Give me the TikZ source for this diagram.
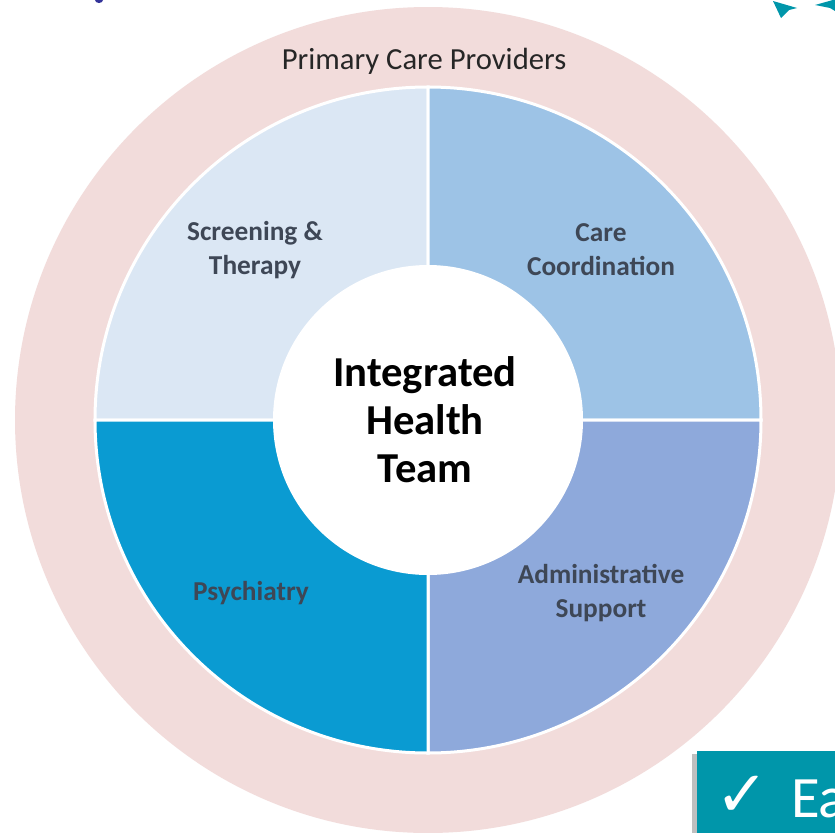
\documentclass[tikz,border=0pt]{standalone}
\usepackage{fontspec}
\setmainfont{Carlito}
\newfontfamily\symfont{DejaVu Sans}
\usepackage{xcolor}
\definecolor{ringpink}{HTML}{F2DCDB}
\definecolor{paleblue}{HTML}{DBE7F4}
\definecolor{midblue}{HTML}{9DC3E6}
\definecolor{deepblue}{HTML}{0A9BD2}
\definecolor{slateblue}{HTML}{8EA9DB}
\definecolor{labelgray}{HTML}{3E4756}
\definecolor{tealbox}{HTML}{0096AA}

\tikzset{
  quad/.style={draw=white, line width=2.25pt},
  lbl/.style={text=labelgray, font=\bfseries\fontsize{20.5}{25.5}\selectfont, align=center, inner sep=0.75pt},
}

\begin{document}
\begin{tikzpicture}[x=0.75pt,y=0.75pt,yscale=-1,xscale=1]
\useasboundingbox (0,0) rectangle (835,832);
\clip (0,0) rectangle (835,832);
\fill[white] (0,0) rectangle (835,832);
% outer ring
\fill[ringpink] (428,420) circle [radius=413];
% four quadrants
\draw[quad, fill=paleblue] (428,420) -- (95,420) arc [start angle=180, end angle=270, radius=333] -- cycle;
\draw[quad, fill=midblue] (428,420) -- (428,87) arc [start angle=270, end angle=360, radius=333] -- cycle;
\draw[quad, fill=slateblue] (428,420) -- (761,420) arc [start angle=0, end angle=90, radius=333] -- cycle;
\draw[quad, fill=deepblue] (428,420) -- (428,753) arc [start angle=90, end angle=180, radius=333] -- cycle;
% centre disc
\fill[white] (428,420) circle [radius=155];
% texts
\node (ring) at (424,61) [inner sep=0.75pt, text=black!85, font=\fontsize{23}{27}\selectfont] {Primary Care Providers};
\node (screen) at (255,250) [lbl] {Screening \&\\Therapy};
\node (coord) at (601,250) [lbl] {Care\\Coordination};
\node (psych) at (251,593) [lbl] {Psychiatry};
\node (admin) at (601,593) [lbl] {Administrative\\Support};
\node (team) at (425,420) [inner sep=0.75pt, align=center, font=\bfseries\fontsize{32}{36}\selectfont] {Integrated\\Health\\Team};
% cut off pieces at the edges
\fill[black!25] (692,754) rectangle (700,840);
\fill[tealbox] (697,751) rectangle (850,850);
\node (tick) at (742,796) [inner sep=0pt, text=white, font=\symfont\fontsize{48}{50}\selectfont] {✓};
\node (boxtext) at (791,799) [anchor=west, inner sep=0pt, text=white, font=\fontsize{44}{48}\selectfont] {Ea};
\fill[tealbox] (773,1) -- (797,8) -- (789,10) -- (781,18) -- cycle;
\fill[tealbox] (815,5) -- (840,-2) -- (840,14) -- (830,8) -- cycle;
\fill[blue!50!black!80] (99,0) ellipse [x radius=4, y radius=3];
\end{tikzpicture}
\end{document}
